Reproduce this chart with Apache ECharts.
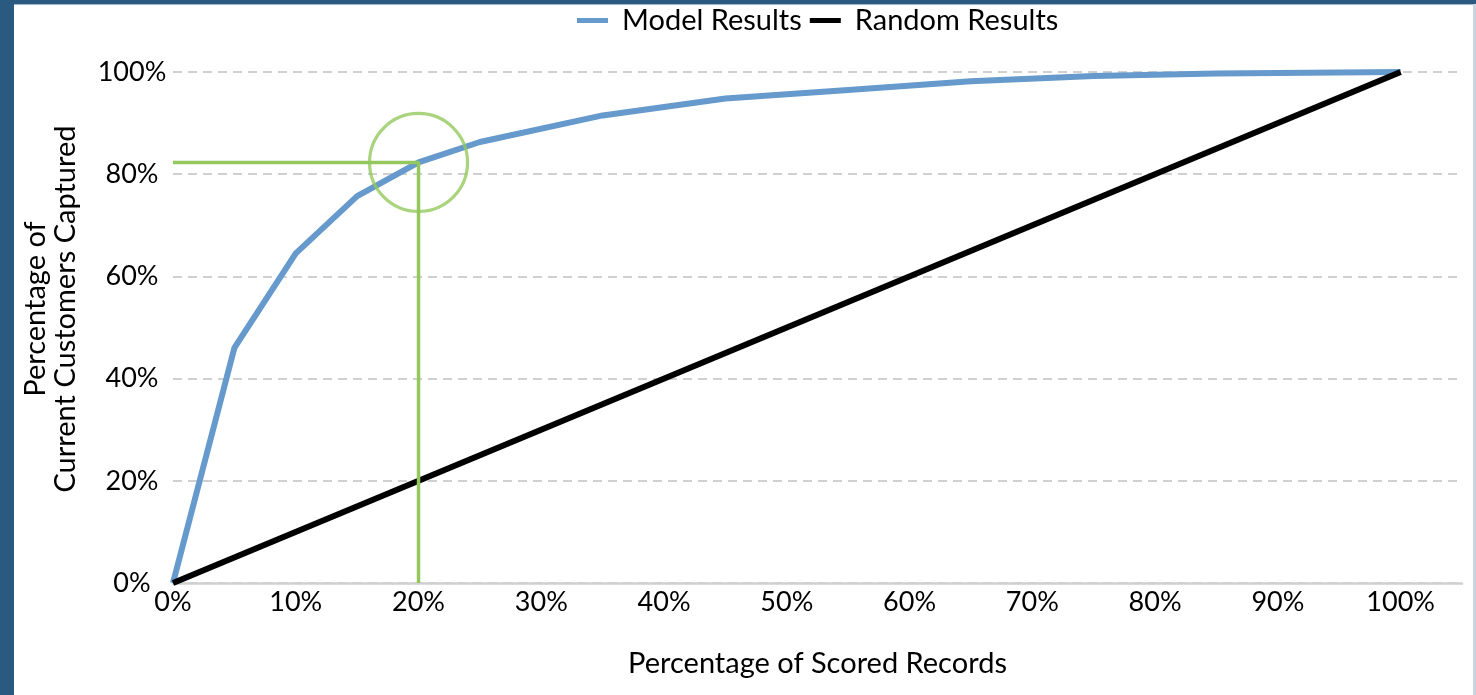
<!DOCTYPE html>
<html>
<head>
<meta charset="utf-8">
<script src="https://cdn.jsdelivr.net/npm/echarts@6/dist/echarts.min.js"></script>
<style>
  html, body { margin: 0; padding: 0; background: #ffffff; }
  #chart { width: 1476px; height: 695px; }
</style>
</head>
<body>
<div id="chart"></div>
<script>
// ---- data ----
const modelX = [0, 5, 10, 15, 20, 25, 35, 45, 55, 65, 75, 85, 100];
const modelY = [0, 46, 64.5, 75.7, 82.3, 86.3, 91.5, 94.8, 96.5, 98.2, 99.2, 99.7, 100];
const randomX = [0, 100];
const randomY = [0, 100];
const markerX = 20;
const markerY = 82.3;
const seriesNames = ['Model Results', 'Random Results'];
const xAxisTitle = 'Percentage of Scored Records';
const yAxisTitle = ['Percentage of', 'Current Customers Captured'];

const FONT = 'Lato';
const chart = echarts.init(document.getElementById('chart'), null, { renderer: 'canvas' });

const option = {
  backgroundColor: '#ffffff',
  animation: false,
  textStyle: { fontFamily: FONT },
  grid: { left: 173, right: 14, top: 72, bottom: 112, containLabel: false },
  legend: {
    top: 1,
    left: 572,
    data: seriesNames,
    icon: 'rect',
    itemWidth: 31,
    itemHeight: 5,
    itemGap: 8,
    textStyle: { fontFamily: FONT, fontSize: 29, color: '#000', padding: [0, 0, 0, 9] }
  },
  xAxis: {
    type: 'value',
    min: 0,
    max: 105,
    interval: 10,
    axisLine: { show: true, lineStyle: { color: '#d0d0d0', width: 2.5 } },
    axisTick: { show: false },
    splitLine: { show: false },
    axisLabel: {
      color: '#000', fontSize: 27, fontFamily: FONT, margin: 6,
      formatter: v => (v > 100 ? '' : v + '%')
    },
    name: xAxisTitle,
    nameLocation: 'middle',
    nameGap: 66,
    nameTextStyle: { color: '#000', fontSize: 29, fontFamily: FONT }
  },
  yAxis: {
    type: 'value',
    min: 0,
    max: 100,
    interval: 20,
    axisLine: { show: false },
    axisTick: { show: false },
    splitLine: { show: true, lineStyle: { color: '#d0d0d0', width: 2, type: [9, 6] } },
    axisLabel: {
      color: '#000', fontSize: 27, fontFamily: FONT, margin: 41, align: 'center',
      formatter: v => v + '%'
    }
  },
  graphic: [
    { type: 'rect', shape: { x: 0, y: 0, width: 14, height: 695 }, style: { fill: '#2B5A80' }, z: 100 },
    { type: 'rect', shape: { x: 0, y: 0, width: 1476, height: 4 }, style: { fill: '#2B5A80' }, z: 100 },
    { type: 'rect', shape: { x: 14, y: 4, width: 1462, height: 1 }, style: { fill: '#9fb7cc' }, z: 100 },
    { type: 'rect', shape: { x: 1473, y: 4, width: 3, height: 691 }, style: { fill: '#c9d6e2' }, z: 100 },
    {
      type: 'text',
      x: 51,
      y: 309,
      rotation: Math.PI / 2,
      style: {
        text: yAxisTitle.join('\n'),
        fill: '#000',
        font: '29px ' + FONT,
        align: 'center',
        verticalAlign: 'middle',
        lineHeight: 30
      }
    }
  ],
  series: [
    {
      name: seriesNames[0],
      type: 'line',
      data: modelX.map((x, i) => [x, modelY[i]]),
      showSymbol: false,
      symbol: 'none',
      lineStyle: { color: '#6699CC', width: 6, join: 'round' },
      itemStyle: { color: '#6699CC' },
      z: 2
    },
    {
      name: seriesNames[1],
      type: 'line',
      data: randomX.map((x, i) => [x, randomY[i]]),
      showSymbol: false,
      symbol: 'none',
      lineStyle: { color: '#000000', width: 6 },
      itemStyle: { color: '#000000' },
      z: 3
    },
    {
      name: 'marker',
      type: 'line',
      data: [[0, markerY], [markerX, markerY], [markerX, 0]],
      showSymbol: false,
      symbol: 'none',
      lineStyle: { color: '#94C85C', width: 3.5 },
      z: 4
    },
    {
      name: 'circle',
      type: 'scatter',
      data: [[markerX, markerY]],
      symbol: 'circle',
      symbolSize: 98,
      itemStyle: { color: 'rgba(0,0,0,0)', borderColor: '#94C85C', borderWidth: 3.2 },
      z: 5
    }
  ]
};
chart.setOption(option);
</script>
</body>
</html>
